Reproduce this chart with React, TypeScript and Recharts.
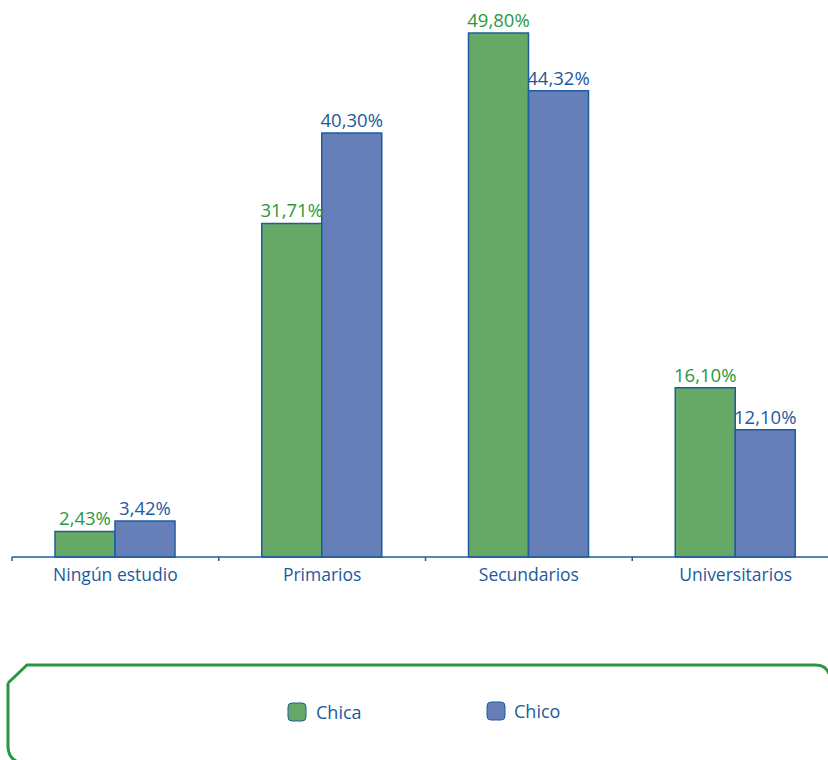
import React from 'react';
import { BarChart, Bar, XAxis, YAxis, LabelList, Legend } from 'recharts';

const categories = ['Ningún estudio', 'Primarios', 'Secundarios', 'Universitarios'];
const chica = [2.43, 31.71, 49.8, 16.1];
const chico = [3.42, 40.3, 44.32, 12.1];
const seriesNames = ['Chica', 'Chico'];

const data = categories.map((c, i) => ({ name: c, chica: chica[i], chico: chico[i] }));

const GREEN = '#66a866';
const BLUE = '#667fb8';
const STROKE = '#1f5c9e';
const GREEN_TEXT = '#2a9940';
const BLUE_TEXT = '#1d5a9c';
const FONT = '"Open Sans", sans-serif';

const fmt = (v: any) => Number(v).toFixed(2).replace('.', ',') + '%';

const PLOT_LEFT = 12;
const PLOT_WIDTH = 827;
const BAND = PLOT_WIDTH / categories.length;

const Tick = (props: any) => {
  const { x, y, payload } = props;
  const left = x - BAND / 2;
  return (
    <g>
      <line x1={left} y1={y - 8} x2={left} y2={y - 4} stroke={STROKE} strokeWidth={1.5} />
      <text x={x} y={y + 16} textAnchor="middle" fill={BLUE_TEXT} fontSize={17.5} fontFamily={FONT}>
        {payload.value}
      </text>
    </g>
  );
};

const LegendBox = () => (
  <svg width={840} height={110} style={{ display: 'block' }}>
    <path
      d="M 8 33 L 27 15 L 816 15 Q 826 15 829 24 M 8 33 L 8 96 Q 8 108 18 112"
      fill="none"
      stroke="#2a9640"
      strokeWidth={3}
    />
    <rect x={288} y={53} width={18} height={18} rx={4} fill={GREEN} stroke={STROKE} strokeWidth={1} />
    <text x={316} y={69} fill={BLUE_TEXT} fontSize={18} fontFamily={FONT}>{seriesNames[0]}</text>
    <rect x={487} y={52} width={18} height={18} rx={4} fill={BLUE} stroke={STROKE} strokeWidth={1} />
    <text x={514} y={68} fill={BLUE_TEXT} fontSize={18} fontFamily={FONT}>{seriesNames[1]}</text>
  </svg>
);

export default function App() {
  return (
    <div style={{ position: 'absolute', left: 0, top: 0, width: 840, height: 760, overflow: 'hidden' }}>
      <BarChart
        width={840}
        height={760}
        data={data}
        margin={{ top: 31, right: 1, left: PLOT_LEFT, bottom: 63 }}
        barGap={0}
        barSize={60}
      >
        <YAxis hide domain={[0, 50]} />
        <XAxis
          dataKey="name"
          axisLine={{ stroke: STROKE, strokeWidth: 1.5 }}
          tickLine={false}
          tick={<Tick />}
          interval={0}
        />
        <Legend
          content={<LegendBox />}
          wrapperStyle={{ position: 'absolute', left: 0, top: 650, width: 840, height: 110 }}
        />
        <Bar dataKey="chica" name={seriesNames[0]} fill={GREEN} stroke={STROKE} strokeWidth={1.5} isAnimationActive={false}>
          <LabelList dataKey="chica" position="top" formatter={fmt} fill={GREEN_TEXT} fontSize={18.5} fontFamily={FONT} offset={6} />
        </Bar>
        <Bar dataKey="chico" name={seriesNames[1]} fill={BLUE} stroke={STROKE} strokeWidth={1.5} isAnimationActive={false}>
          <LabelList dataKey="chico" position="top" formatter={fmt} fill={BLUE_TEXT} fontSize={18.5} fontFamily={FONT} offset={6} />
        </Bar>
      </BarChart>
    </div>
  );
}
